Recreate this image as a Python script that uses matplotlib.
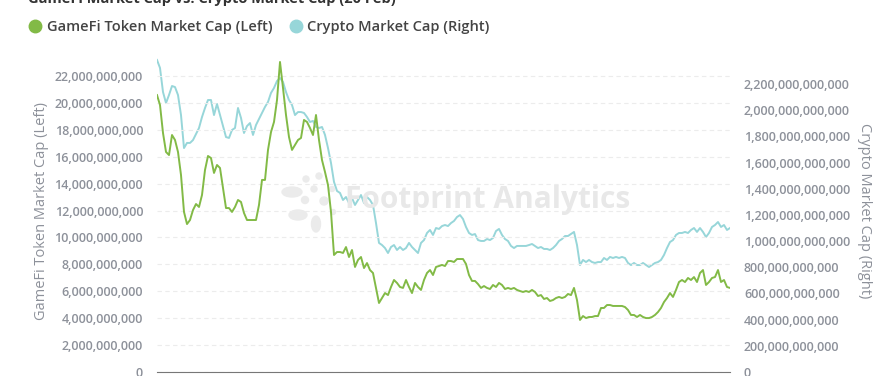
import matplotlib.pyplot as plt
import numpy as np
from matplotlib.lines import Line2D
from matplotlib.patches import Ellipse
from matplotlib.ticker import FuncFormatter

# GameFi token market cap, billions USD (daily)
gamefi_cap_b = [
    20.59, 19.85, 17.77, 16.36, 16.13, 17.62, 17.25, 16.36, 14.65, 11.90,
    11.00, 11.30, 12.04, 12.49, 12.27, 13.16, 15.02, 16.06, 15.91, 14.80,
    15.39, 15.17, 13.68, 12.19, 12.19, 11.90, 12.27, 12.79, 12.64, 11.82,
    11.30, 11.30, 11.30, 11.30, 12.42, 14.28, 14.28, 16.51, 17.84, 18.59,
    20.22, 23.05, 21.12, 19.11, 17.47, 16.51, 16.88, 17.25, 17.40, 18.74,
    18.59, 18.14, 17.62, 19.11, 17.25, 15.76, 14.87, 13.90, 11.90, 8.70,
    8.92, 8.92, 8.85, 9.29, 8.55, 9.07, 7.81, 8.33, 8.55, 7.73,
    8.10, 7.58, 7.36, 6.25, 5.13, 5.50, 5.87, 5.72, 6.32, 6.84,
    6.62, 6.32, 6.25, 6.84, 6.32, 5.87, 6.62, 6.32, 6.10, 6.84,
    7.36, 7.58, 7.21, 7.81, 7.88, 7.96, 7.88, 8.25, 8.25, 8.18,
    8.40, 8.40, 8.40, 8.03, 7.21, 6.77, 6.77, 6.54, 6.25, 6.39,
    6.25, 6.17, 6.47, 6.32, 6.62, 6.47, 6.17, 6.25, 6.17, 6.25,
    6.10, 6.02, 5.95, 6.02, 5.95, 6.10, 5.95, 5.65, 5.72, 5.43,
    5.50, 5.28, 5.35, 5.50, 5.58, 5.50, 5.58, 5.80, 5.72, 6.25,
    5.35, 3.87, 4.16, 4.01, 4.09, 4.09, 4.16, 4.16, 4.76, 4.76,
    4.98, 4.98, 4.91, 4.91, 4.91, 4.91, 4.83, 4.61, 4.24, 4.24,
    4.09, 4.24, 4.09, 4.01, 4.01, 4.09, 4.24, 4.46, 4.76, 5.20,
    5.50, 5.87, 5.58, 6.10, 6.69, 6.84, 6.69, 6.99, 6.84, 7.06,
    6.69, 7.36, 7.58, 6.47, 6.69, 6.99, 7.06, 7.58, 6.69, 6.84,
    6.32, 6.25,
]

# total crypto market cap, billions USD
crypto_cap_b = [
    2384, 2323, 2139, 2055, 2116, 2185, 2177, 2116, 1963, 1711,
    1750, 1750, 1772, 1818, 1864, 1948, 2017, 2078, 2078, 1963,
    2048, 1963, 1879, 1795, 1788, 1849, 1864, 2017, 1941, 1826,
    1879, 1902, 1811, 1887, 1933, 1979, 2025, 2063, 2132, 2170,
    2223, 2246, 2216, 2139, 2078, 2040, 1963, 1986, 1986, 1979,
    1948, 1910, 1918, 1872, 1864, 1872, 1811, 1711, 1597, 1452,
    1383, 1368, 1314, 1337, 1291, 1329, 1276, 1314, 1352, 1291,
    1337, 1314, 1276, 1138, 986, 970, 947, 909, 955, 970,
    932, 955, 932, 947, 986, 955, 932, 909, 986, 1008,
    1062, 1085, 1047, 1100, 1093, 1115, 1123, 1115, 1138, 1154,
    1184, 1199, 1169, 1108, 1062, 1047, 1054, 1008, 1001, 1001,
    1016, 1008, 1024, 1077, 1093, 1047, 1016, 1001, 963, 947,
    963, 963, 963, 963, 970, 978, 963, 947, 955, 940,
    940, 932, 947, 970, 1001, 1016, 1039, 1039, 1054, 1070,
    970, 817, 856, 840, 856, 840, 833, 840, 840, 871,
    856, 879, 871, 879, 871, 879, 871, 833, 817, 833,
    817, 817, 833, 817, 802, 817, 833, 840, 856, 894,
    947, 993, 1008, 1047, 1062, 1062, 1070, 1062, 1085, 1100,
    1070, 1100, 1070, 1031, 1062, 1108, 1123, 1146, 1108, 1123,
    1085, 1100,
]

left_ticks = np.arange(0, 22e9 + 1, 2e9)
right_ticks = np.arange(0, 2.2e12 + 1, 2e11)

GREEN = "#82ba46"
TEAL = "#97d6d9"
GREY = "#8d919a"

plt.rcParams["font.family"] = ["Open Sans", "DejaVu Sans"]

gamefi = np.array(gamefi_cap_b) * 1e9
crypto = np.array(crypto_cap_b) * 1e9
days = np.arange(len(gamefi))

fig = plt.figure(figsize=(8.93, 3.76), dpi=100)
ax = fig.add_axes([157 / 893, 4 / 376, (730 - 157) / 893, 322 / 376])
ax2 = ax.twinx()

ax2.plot(days, crypto, color=TEAL, lw=1.4)
ax.plot(days, gamefi, color=GREEN, lw=1.4)

# keep green line on top of the twin axis
ax.set_zorder(ax2.get_zorder() + 1)
ax.patch.set_visible(False)

ax.set_xlim(0, len(days) - 1)
ax.set_ylim(0, 23.94e9)
ax2.set_ylim(0, 2.46e12)
ax.set_xticks([])

comma = FuncFormatter(lambda v, p: f"{v:,.0f}")
ax.set_yticks(left_ticks)
ax.yaxis.set_major_formatter(comma)
ax2.set_yticks(right_ticks)
ax2.yaxis.set_major_formatter(comma)

for a in (ax, ax2):
    a.tick_params(axis="y", length=0, labelsize=9, labelcolor=GREY, pad=10)
    for s in a.spines.values():
        s.set_visible(False)
    for lab in a.get_yticklabels():
        lab.set_fontweight("semibold")
ax.spines["bottom"].set_visible(True)
ax.spines["bottom"].set_color("#777777")

ax.grid(axis="y", color="#ececec", lw=0.8, ls=(0, (4, 3)))

ax.set_ylabel("GameFi Token Market Cap (Left)", color=GREY, fontsize=10.5, labelpad=4)
ax2.set_ylabel("Crypto Market Cap (Right)", color=GREY, fontsize=10.5,
               rotation=270, labelpad=16)

# watermark
fig.text(345 / 893, 1 - 200 / 376, "Footprint Analytics", fontsize=21.5,
         fontweight="bold", color="#e8e8e8", va="center", ha="left", zorder=0)
for cx, cy, w, h in [(292, 192, 20, 10), (298, 215, 18, 10), (316, 224, 9, 16),
                     (305, 200, 7, 7), (314, 189, 6, 6), (324, 201, 8, 8),
                     (319, 176, 6, 6), (332, 189, 5, 5), (306, 179, 6, 6),
                     (333, 212, 5, 5)]:
    fig.patches.append(Ellipse((cx / 893, 1 - cy / 376), w / 893, h / 376,
                               transform=fig.transFigure, color="#ebebeb", zorder=0))

# title is cut off at the top in the original screenshot
fig.text(28 / 893, 1 - 3 / 376, "GameFi Market Cap vs. Crypto Market Cap (20 Feb)",
         fontsize=10.5, fontweight="bold", color="#333333", va="baseline")

handles = [Line2D([], [], color=GREEN, marker="o", ls="", markersize=9),
           Line2D([], [], color=TEAL, marker="o", ls="", markersize=9)]
leg = fig.legend(handles, ["GameFi Token Market Cap (Left)", "Crypto Market Cap (Right)"],
                 loc="center left", bbox_to_anchor=(13 / 893, 1 - 27 / 376), ncol=2,
                 frameon=False, handletextpad=0.2, columnspacing=1.0,
                 handlelength=1.2, prop={"size": 10.5, "weight": "semibold"})
for t in leg.get_texts():
    t.set_color("#444444")

fig.savefig("out.png", dpi=100)
